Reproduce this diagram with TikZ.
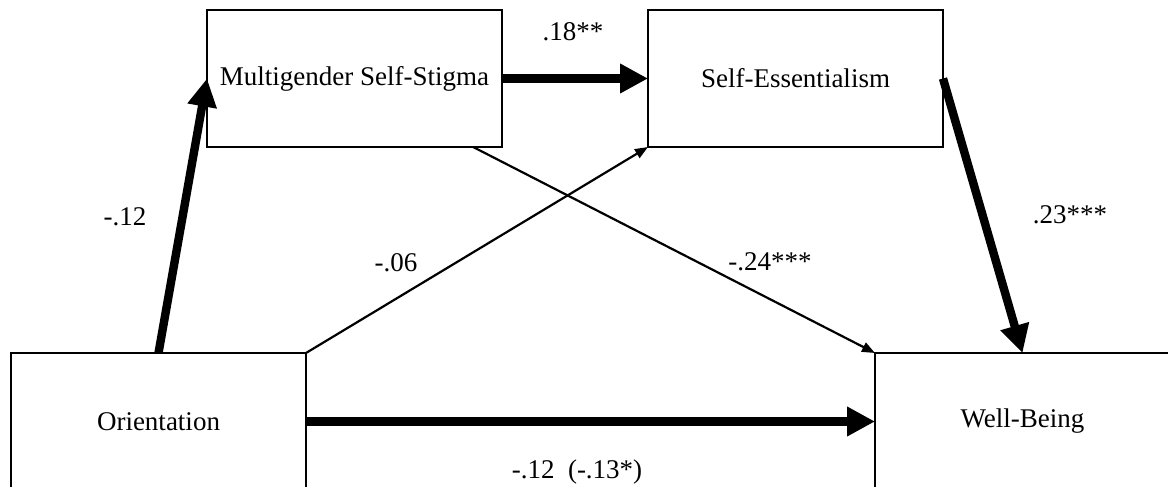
\documentclass[tikz,border=0pt]{standalone}
\usepackage{fontspec}
\setmainfont{Liberation Serif}
\usetikzlibrary{arrows.meta}

\tikzset{
  varbox/.style={draw,line width=0.75pt,outer sep=0pt,minimum width=147.5pt,
    minimum height=68.5pt,font=\fontsize{13.5}{16}\selectfont},
  coef/.style={font=\fontsize{13.5}{16}\selectfont,inner sep=0pt},
  strongpath/.style={line width=4.2pt,-{Triangle[length=14pt,width=14pt]}},
  weakpath/.style={line width=1.1pt,-{Triangle[length=6.5pt,width=5pt]}}
}

\begin{document}
\begin{tikzpicture}[x=0.5pt,y=-0.5pt]
    % --- frame ---
    \useasboundingbox (0,0) rectangle (1168,487);
    \clip (0,0) rectangle (1168,487);
    % --- variables ---
    \node[varbox] (stigma) at (354.5,78.5) {Multigender Self-Stigma};
    \node[varbox] (essent) at (795.5,78.5) {Self-Essentialism};
    \node[varbox] (orient) at (158.5,421.5) {Orientation};
    \node[varbox] (wellb)  at (1022.5,421.5) {Well-Being};
    % --- paths ---
    \draw[strongpath] (orient.north) -- (stigma.west);
    \draw[strongpath] (stigma.east) -- (essent.west);
    \draw[weakpath] (orient.north east) -- (essent.south west);
    \draw[weakpath] (stigma.-30.7) -- (wellb.north west);
    \draw[strongpath] (essent.east) -- (wellb.north);
    \draw[strongpath] (orient.east) -- (wellb.west);
    % --- coefficients ---
    \node[coef] (c1) at (573,32) {.18**};
    \node[coef] (c2) at (125,217) {-.12};
    \node[coef] (c3) at (396,263) {-.06};
    \node[coef] (c4) at (770,262) {-.24***};
    \node[coef] (c5) at (1070,215) {.23***};
    \node[coef] (c6) at (577,472) {-.12~~(-.13*)};
  \end{tikzpicture}
\end{document}
